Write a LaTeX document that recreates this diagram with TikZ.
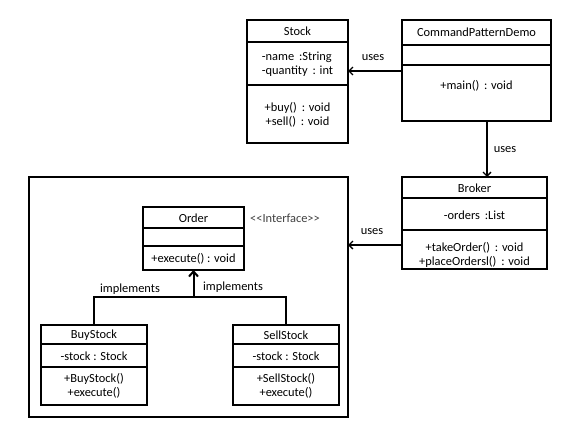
\documentclass[tikz,border=0pt]{standalone}
\usepackage{fontspec}
\setmainfont{Carlito}
\usetikzlibrary{arrows.meta}
\tikzset{
  comp/.style={draw=black, line width=1.2bp, rectangle, inner sep=0pt, outer sep=0pt},
  txt/.style={inner sep=0pt, align=center, font=\fontsize{12.4bp}{14bp}\selectfont},
  arr/.style={line width=1.3bp, -{Straight Barb[length=4bp,width=8bp,line width=1.3bp]}},
  implarr/.style={line width=2bp, -{Straight Barb[length=5bp,width=9bp,line width=2bp]}},
  plain/.style={line width=1.5bp}
}
\begin{document}
\begin{tikzpicture}[x=1bp,y=-1bp]
\useasboundingbox[fill=white] (0,0) rectangle (578,428);
% Stock
\node[comp, minimum width=101bp, minimum height=22bp] (stockH) at (297.5,31) {};
\node[comp, minimum width=101bp, minimum height=43bp] (stockA) at (297.5,63.5) {};
\node[comp, minimum width=101bp, minimum height=58bp] (stockM) at (297.5,114) {};
\node[txt] (stockHt) at (297.5,31) {Stock};
\node[txt, align=left] (stockAt) at (297.5,64.5) {-name~\,:String\\-quantity~\,: int};
\node[txt] (stockMt) at (297.5,114.5) {+buy()~\,: void\\+sell()~\,: void};
% CommandPatternDemo
\node[comp, minimum width=149bp, minimum height=25bp] (cpdH) at (476.5,32.5) {};
\node[comp, minimum width=149bp, minimum height=20bp] (cpdA) at (476.5,55) {};
\node[comp, minimum width=149bp, minimum height=56bp] (cpdM) at (476.5,93) {};
\node[txt] (cpdHt) at (476.5,32) {CommandPatternDemo};
\node[txt] (cpdMt) at (476.5,86) {+main()~\,: void};
% Broker
\node[comp, minimum width=145bp, minimum height=21bp] (brokerH) at (474.5,187.5) {};
\node[comp, minimum width=145bp, minimum height=32bp] (brokerA) at (474.5,214) {};
\node[comp, minimum width=145bp, minimum height=39bp] (brokerM) at (474.5,249.5) {};
\node[txt] (brokerHt) at (474.5,188) {Broker};
\node[txt] (brokerAt) at (474.5,215) {-orders~\,:List};
\node[txt] (brokerMt) at (474.5,255) {+takeOrder()~\,: void\\+placeOrdersl()~\,: void};
% Outer box
\node[comp, minimum width=319bp, minimum height=240bp] (outer) at (188.5,297) {};
% Order
\node[comp, minimum width=101bp, minimum height=21bp] (orderH) at (193.5,217.5) {};
\node[comp, minimum width=101bp, minimum height=18bp] (orderA) at (193.5,237) {};
\node[comp, minimum width=101bp, minimum height=24bp] (orderM) at (193.5,258) {};
\node[txt] (orderHt) at (193.5,218) {Order};
\node[txt] (orderMt) at (193.5,259) {+execute() : void};
\node[txt, text=black!75] (iface) at (285,218) {<{}<Interface>{}>};
% BuyStock
\node[comp, minimum width=106bp, minimum height=19bp] (buyH) at (94,334.5) {};
\node[comp, minimum width=106bp, minimum height=23bp] (buyA) at (94,355.5) {};
\node[comp, minimum width=106bp, minimum height=38bp] (buyM) at (94,386) {};
\node[txt] (buyHt) at (94,335.5) {BuyStock};
\node[txt] (buyAt) at (94,356) {-stock : Stock};
\node[txt] (buyMt) at (94,385.5) {+BuyStock()\\+execute()};
% SellStock
\node[comp, minimum width=106bp, minimum height=19bp] (sellH) at (286,334.5) {};
\node[comp, minimum width=106bp, minimum height=23bp] (sellA) at (286,355.5) {};
\node[comp, minimum width=106bp, minimum height=38bp] (sellM) at (286,386) {};
\node[txt] (sellHt) at (286,335.5) {SellStock};
\node[txt] (sellAt) at (286,356) {-stock : Stock};
\node[txt] (sellMt) at (286,385.5) {+SellStock()\\+execute()};
% connectors
\draw[arr] ([yshift=-6bp]cpdM.north west) -- ([yshift=-6bp]cpdM.north west -| stockA.east);
\node[txt] (uses1) at (373,58) {uses};
\draw[arr] ([xshift=10.5bp]cpdM.south) -- ([xshift=10.5bp]cpdM.south |- brokerH.north);
\node[txt] (uses2) at (505,150) {uses};
\draw[arr] ([yshift=-15bp]brokerM.north west) -- ([yshift=-15bp]brokerM.north west -| outer.east);
\node[txt] (uses3) at (372,232) {uses};
\coordinate (junc) at ([yshift=-27bp]orderM.south);
\draw[plain] (buyH.north) |- (junc) -| (sellH.north);
\draw[implarr] (junc) -- (orderM.south);
\node[txt] (impl1) at (130,289) {implements};
\node[txt] (impl2) at (233,287) {implements};
\end{tikzpicture}
\end{document}
